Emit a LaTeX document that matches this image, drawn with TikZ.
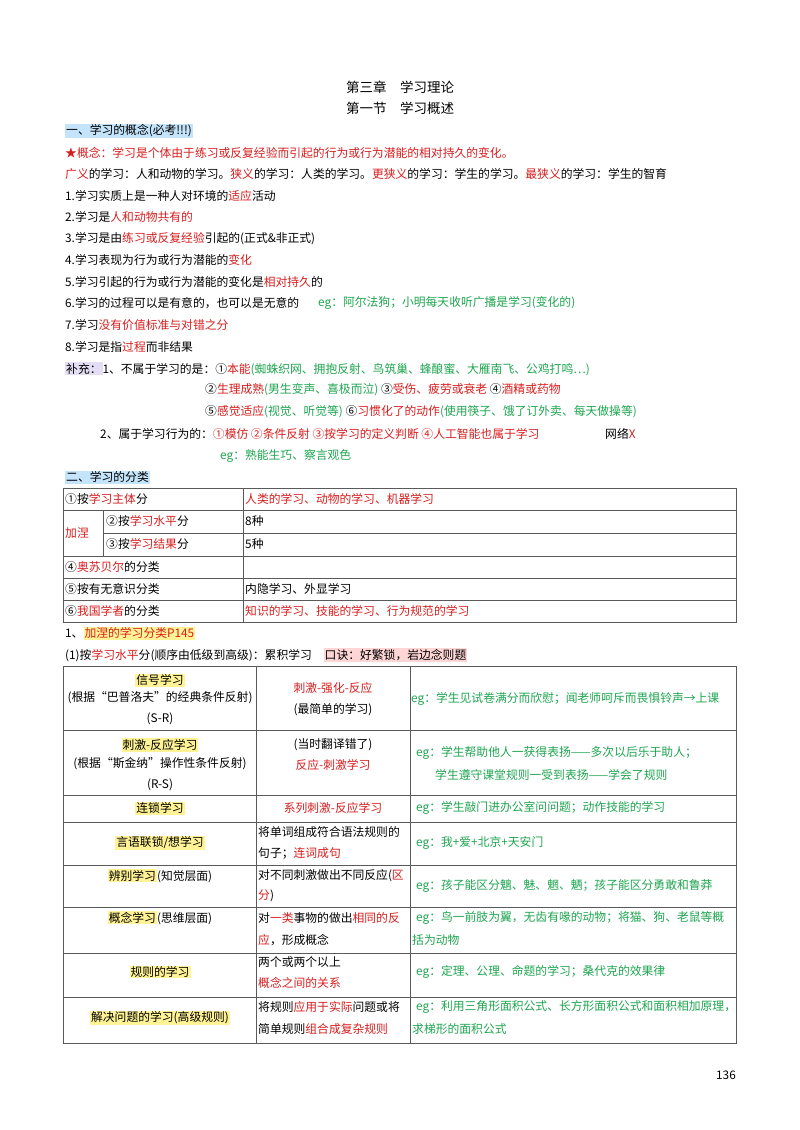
\documentclass[tikz,border=0pt]{standalone}
\usepackage{fontspec}
\setmainfont{Noto Sans CJK SC}
\usepackage{xcolor}
\usetikzlibrary{positioning}
\definecolor{keyred}{RGB}{215,30,30}
\definecolor{egreen}{RGB}{30,165,80}
\definecolor{hlblue}{RGB}{195,228,250}
\definecolor{hlyellow}{RGB}{255,243,150}
\definecolor{hlpink}{RGB}{255,214,214}
\definecolor{hllav}{RGB}{228,222,245}
\definecolor{rulegray}{RGB}{90,90,90}
\newcommand{\rd}[1]{\textcolor{keyred}{#1}}
\newcommand{\gr}[1]{\textcolor{egreen}{#1}}
\newcommand{\hlb}[1]{{\setlength{\fboxsep}{1pt}\colorbox{hlblue}{#1}}}
\newcommand{\hly}[1]{{\setlength{\fboxsep}{1pt}\colorbox{hlyellow}{#1}}}
\newcommand{\hlp}[1]{{\setlength{\fboxsep}{1pt}\colorbox{hlpink}{#1}}}
\newcommand{\hll}[1]{{\setlength{\fboxsep}{1pt}\colorbox{hllav}{#1}}}
\begin{document}
\begin{tikzpicture}[
    x=1pt, y=-1pt,
    txt/.style={anchor=west, inner sep=0pt, font=\fontsize{11.8}{13}\selectfont},
    ctxt/.style={anchor=center, inner sep=0pt, font=\fontsize{11.8}{13}\selectfont},
    title/.style={anchor=center, inner sep=0pt, font=\fontsize{13.5}{15}\selectfont},
    grid/.style={draw=rulegray, line width=0.6pt}
]
\useasboundingbox[fill=white] (0,0) rectangle (800,1130);

% Titles
\node[title] (chap) at (400,87) {第三章\quad 学习理论};
\node[title] (sect) at (400,108) {第一节\quad 学习概述};

% Part one
\node[txt] (h1) at (65,131) {\hlb{一、学习的概念(必考!!!)}};
\node[txt] (def) at (65,153) {\rd{★概念：学习是个体由于练习或反复经验而引起的行为或行为潜能的相对持久的变化。}};
\node[txt] (broad) at (65,174) {\rd{广义}的学习：人和动物的学习。\rd{狭义}的学习：人类的学习。\rd{更狭义}的学习：学生的学习。\rd{最狭义}的学习：学生的智育};
\node[txt] (p1) at (65,196) {1.学习实质上是一种人对环境的\rd{适应}活动};
\node[txt] (p2) at (65,217) {2.学习是\rd{人和动物共有的}};
\node[txt] (p3) at (65,239) {3.学习是由\rd{练习或反复经验}引起的(正式\&非正式)};
\node[txt] (p4) at (65,260) {4.学习表现为行为或行为潜能的\rd{变化}};
\node[txt] (p5) at (65,282) {5.学习引起的行为或行为潜能的变化是\rd{相对持久}的};
\node[txt] (p6) at (65,303) {6.学习的过程可以是有意的，也可以是无意的};
\node[txt] (p6eg) at (318,303) {\gr{eg：阿尔法狗；小明每天收听广播是学习(变化的)}};
\node[txt] (p7) at (65,325) {7.学习\rd{没有价值标准与对错之分}};
\node[txt] (p8) at (65,347) {8.学习是指\rd{过程}而非结果};
\node[txt] (sup1) at (65,369) {\hll{补充：}1、不属于学习的是：①\rd{本能}\gr{(蜘蛛织网、拥抱反射、鸟筑巢、蜂酿蜜、大雁南飞、公鸡打鸣…)}};
\node[txt] (sup2) at (205,390) {②\rd{生理成熟}\gr{(男生变声、喜极而泣)}\ ③\rd{受伤、疲劳或衰老}\ ④\rd{酒精或药物}};
\node[txt] (sup3) at (205,412) {⑤\rd{感觉适应}\gr{(视觉、听觉等)}\ ⑥\rd{习惯化了的动作}\gr{(使用筷子、饿了订外卖、每天做操等)}};
\node[txt] (sup4) at (100,434) {2、属于学习行为的：\rd{①模仿\ ②条件反射\ ③按学习的定义判断\ ④人工智能也属于学习}};
\node[txt] (net) at (605,434) {网络\rd{X}};
\node[txt] (sup5) at (220,456) {\gr{eg：熟能生巧、察言观色}};

% Part two
\node[txt] (h2) at (65,477) {\hlb{二、学习的分类}};
\draw[grid] (63,488) rectangle (736,622);
\foreach \yy in {510,533,556,578,600} \draw[grid] (63,\yy) -- (736,\yy);
\draw[grid] (243,488) -- (243,622);
\draw[grid] (103,510) -- (103,556);
\fill[white] (64,533.5) rectangle (102.6,532.5);
\node[txt] (c1a) at (65,499) {①按\rd{学习主体}分};
\node[txt] (c1b) at (245,499) {\rd{人类的学习、动物的学习、机器学习}};
\node[txt] (c2z) at (65,533) {\rd{加涅}};
\node[txt] (c2a) at (106,521) {②按\rd{学习水平}分};
\node[txt] (c2b) at (245,521) {8种};
\node[txt] (c3a) at (106,544) {③按\rd{学习结果}分};
\node[txt] (c3b) at (245,544) {5种};
\node[txt] (c4a) at (65,567) {④\rd{奥苏贝尔}的分类};
\node[txt] (c5a) at (65,589) {⑤按有无意识分类};
\node[txt] (c5b) at (245,589) {内隐学习、外显学习};
\node[txt] (c6a) at (65,611) {⑥\rd{我国学者}的分类};
\node[txt] (c6b) at (245,611) {\rd{知识的学习、技能的学习、行为规范的学习}};

\node[txt] (g1) at (65,633) {1、\hly{\rd{加涅的学习分类P145}}};
\node[txt] (g2) at (65,655) {(1)按\rd{学习水平}分(顺序由低级到高级)：累积学习\quad \hlp{口诀：好繁锁，岩边念则题}};

% Gagne table
\draw[grid] (63,666) rectangle (736,1043);
\foreach \yy in {730,795,822,865,907,953,997} \draw[grid] (63,\yy) -- (736,\yy);
\draw[grid] (256,666) -- (256,1043);
\draw[grid] (410,666) -- (410,1043);

\node[ctxt] (r1a) at (160,680) {\hly{信号学习}};
\node[ctxt] (r1b) at (160,698) {(根据“巴普洛夫”的经典条件反射)};
\node[ctxt] (r1c) at (160,719) {(S-R)};
\node[ctxt] (r1d) at (333,688) {\rd{刺激-强化-反应}};
\node[ctxt] (r1e) at (333,710) {(最简单的学习)};
\node[txt] (r1f) at (411,699) {\gr{eg：学生见试卷满分而欣慰；闻老师呵斥而畏惧铃声→上课}};

\node[ctxt] (r2a) at (160,745) {\hly{刺激-反应学习}};
\node[ctxt] (r2b) at (160,764) {(根据“斯金纳”操作性条件反射)};
\node[ctxt] (r2c) at (160,785) {(R-S)};
\node[ctxt] (r2d) at (333,745) {(当时翻译错了)};
\node[ctxt] (r2e) at (333,765) {\rd{反应-刺激学习}};
\node[txt] (r2f) at (416,753) {\gr{eg：学生帮助他人一获得表扬——多次以后乐于助人；}};
\node[txt] (r2g) at (435,775) {\gr{学生遵守课堂规则一受到表扬——学会了规则}};

\node[ctxt] (r3a) at (160,808) {\hly{连锁学习}};
\node[ctxt] (r3b) at (333,808) {\rd{系列刺激-反应学习}};
\node[txt] (r3c) at (416,808) {\gr{eg：学生敲门进办公室问问题；动作技能的学习}};

\node[ctxt] (r4a) at (160,843) {\hly{言语联锁/想学习}};
\node[txt] (r4b) at (258,832) {将单词组成符合语法规则的};
\node[txt] (r4c) at (258,853) {句子；\rd{连词成句}};
\node[txt] (r4d) at (416,843) {\gr{eg：我+爱+北京+天安门}};

\node[ctxt] (r5a) at (160,876) {\hly{辨别学习}(知觉层面)};
\node[txt] (r5b) at (258,876) {对不同刺激做出不同反应(\rd{区}};
\node[txt] (r5c) at (258,896) {\rd{分})};
\node[txt] (r5d) at (416,886) {\gr{eg：孩子能区分魑、魅、魍、魉；孩子能区分勇敢和鲁莽}};

\node[ctxt] (r6a) at (160,918) {\hly{概念学习}(思维层面)};
\node[txt] (r6b) at (258,918) {对\rd{一类}事物的做出\rd{相同的反}};
\node[txt] (r6c) at (258,940) {\rd{应}，形成概念};
\node[txt] (r6d) at (416,918) {\gr{eg：鸟一前肢为翼，无齿有喙的动物；将猫、狗、老鼠等概}};
\node[txt] (r6e) at (412,940) {\gr{括为动物}};

\node[ctxt] (r7a) at (160,972) {\hly{规则的学习}};
\node[txt] (r7b) at (258,962) {两个或两个以上};
\node[txt] (r7c) at (258,983) {\rd{概念之间的关系}};
\node[txt] (r7d) at (416,972) {\gr{eg：定理、公理、命题的学习；桑代克的效果律}};

\node[ctxt] (r8a) at (160,1018) {\hly{解决问题的学习(高级规则)}};
\node[txt] (r8b) at (258,1007) {将规则\rd{应用于实际}问题或将};
\node[txt] (r8c) at (258,1029) {简单规则\rd{组合成复杂规则}};
\node[txt] (r8d) at (416,1007) {\gr{eg：利用三角形面积公式、长方形面积公式和面积相加原理，}};
\node[txt] (r8e) at (412,1029) {\gr{求梯形的面积公式}};

% Page number
\node[ctxt] (pg) at (726,1075) {136};
\end{tikzpicture}
\end{document}
